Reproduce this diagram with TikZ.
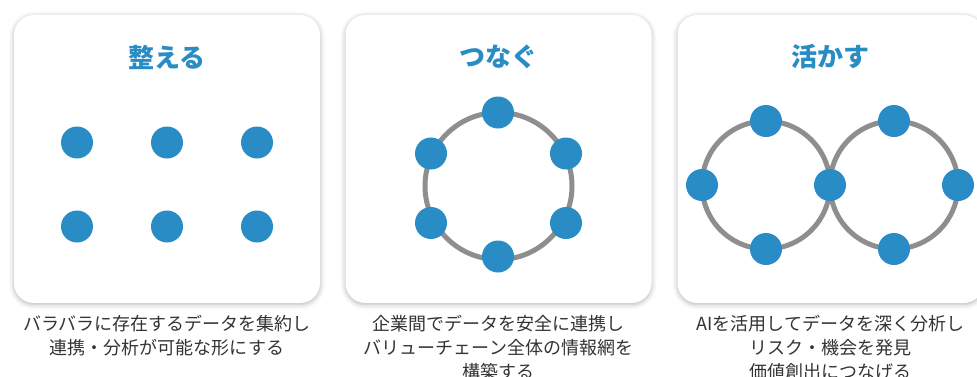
\documentclass[tikz,border=0pt]{standalone}
\usepackage{fontspec}
\newfontfamily\jp{Noto Sans CJK JP}
\usetikzlibrary{shadows.blur,calc}
\definecolor{accent}{HTML}{2A8CC4}
\definecolor{ringgray}{HTML}{8E8E8E}
\definecolor{captxt}{HTML}{333333}
\tikzset{
  card/.style={fill=white, rounded corners=20pt, minimum width=306pt, minimum height=288pt, inner sep=0pt,
    blur shadow={shadow xshift=0pt, shadow yshift=-1.5pt, shadow blur radius=5pt, shadow opacity=30}},
  dot/.style={circle, fill=accent, minimum size=32pt, inner sep=0pt},
  ringline/.style={draw=ringgray, line width=5pt},
  title/.style={text=accent, font=\jp\bfseries\fontsize{26}{30}\selectfont, inner sep=0pt},
  caption/.style={text=captxt, font=\jp\fontsize{18}{24}\selectfont, align=center, anchor=north, inner sep=0pt}
}
\begin{document}
\begin{tikzpicture}[x=1pt,y=-1pt]
\useasboundingbox (0,0) rectangle (977,376);
% cards
\node[card] (c1) at (167,159) {};
\node[card] (c2) at (498.5,159) {};
\node[card] (c3) at (830.5,159) {};
% titles
\node[title] (t1) at (167,57) {整える};
\node[title] (t2) at (498.5,57) {つなぐ};
\node[title] (t3) at (830.5,57) {活かす};
% card 1 dots
\node[dot] (a1) at (77,142.5) {};
\node[dot] (a2) at (167,142.5) {};
\node[dot] (a3) at (257,142.5) {};
\node[dot] (a4) at (77,226.5) {};
\node[dot] (a5) at (167,226.5) {};
\node[dot] (a6) at (257,226.5) {};
% card 2 ring
\coordinate (r2) at (498.5,186);
\draw[ringline] (r2) circle[radius=73.5pt];
\node[dot] (b1) at (498,112.5) {};
\node[dot] (b2) at (566,153.5) {};
\node[dot] (b3) at (566,223) {};
\node[dot] (b4) at (498,256.5) {};
\node[dot] (b5) at (431,223) {};
\node[dot] (b6) at (431,153.5) {};
% card 3 rings
\coordinate (rl) at (766,185);
\coordinate (rr) at (894,185);
\draw[ringline] (rl) circle[radius=64pt];
\draw[ringline] (rr) circle[radius=64pt];
\node[dot] (d1) at ($(rl)+(0,-64pt)$) {};
\node[dot] (d2) at ($(rl)+(-64pt,0)$) {};
\node[dot] (d3) at ($(rl)+(0,64pt)$) {};
\node[dot] (d4) at (830,185) {};
\node[dot] (d5) at ($(rr)+(0,-64pt)$) {};
\node[dot] (d6) at ($(rr)+(64pt,0)$) {};
\node[dot] (d7) at ($(rr)+(0,64pt)$) {};
% captions
\node[caption] (p1) at (167,315) {バラバラに存在するデータを集約し\\連携・分析が可能な形にする};
\node[caption] (p2) at (498.5,315) {企業間でデータを安全に連携し\\バリューチェーン全体の情報網を\\構築する};
\node[caption] (p3) at (830.5,315) {AIを活用してデータを深く分析し\\リスク・機会を発見\\価値創出につなげる};
\end{tikzpicture}
\end{document}
